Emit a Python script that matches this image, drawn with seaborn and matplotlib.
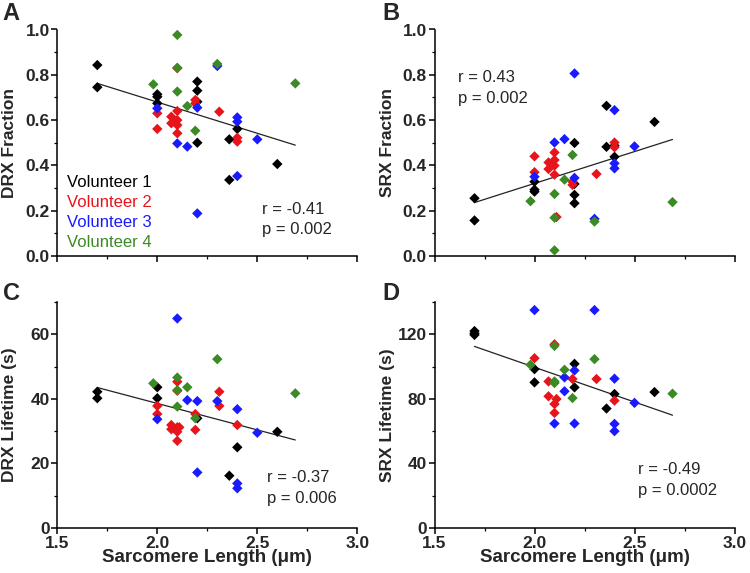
import numpy as np
import pandas as pd
import matplotlib
matplotlib.use("Agg")
import matplotlib.pyplot as plt
from matplotlib.ticker import MultipleLocator
import seaborn as sns

sns.set_style("ticks")
plt.rcParams['font.family'] = ['Liberation Sans', 'DejaVu Sans']

volunteers = ["Volunteer 1", "Volunteer 2", "Volunteer 3", "Volunteer 4"]
colors = ["#000000", "#e8141b", "#1a1aff", "#3b8a25"]

# Panel A: DRX Fraction
a_v1_x = [1.70, 1.70, 2.00, 2.00, 2.00, 2.20, 2.20, 2.20, 2.20, 2.36, 2.40, 2.36, 2.60]
a_v1_y = [0.843, 0.745, 0.714, 0.703, 0.674, 0.770, 0.730, 0.681, 0.500, 0.515, 0.561, 0.336, 0.406]
a_v2_x = [2.00, 2.00, 2.10, 2.10, 2.07, 2.07, 2.10, 2.10, 2.10, 2.19, 2.19, 2.31, 2.40, 2.40]
a_v2_y = [0.630, 0.561, 0.829, 0.640, 0.615, 0.586, 0.600, 0.578, 0.542, 0.689, 0.674, 0.637, 0.522, 0.505]
a_v3_x = [2.00, 2.10, 2.15, 2.20, 2.20, 2.30, 2.40, 2.40, 2.40, 2.50]
a_v3_y = [0.652, 0.497, 0.483, 0.655, 0.188, 0.839, 0.612, 0.593, 0.353, 0.515]
a_v4_x = [2.10, 2.10, 1.98, 2.10, 2.15, 2.19, 2.30, 2.69]
a_v4_y = [0.976, 0.831, 0.758, 0.726, 0.662, 0.553, 0.848, 0.762]

# Panel B: SRX Fraction
b_v1_x = [1.70, 1.70, 2.00, 2.00, 2.00, 2.20, 2.20, 2.20, 2.20, 2.36, 2.36, 2.40, 2.40, 2.60]
b_v1_y = [0.255, 0.157, 0.328, 0.293, 0.284, 0.499, 0.318, 0.270, 0.233, 0.663, 0.482, 0.487, 0.438, 0.592]
b_v2_x = [2.00, 2.00, 2.07, 2.07, 2.10, 2.10, 2.10, 2.10, 2.11, 2.19, 2.19, 2.31, 2.40, 2.40]
b_v2_y = [0.440, 0.370, 0.413, 0.384, 0.457, 0.424, 0.399, 0.359, 0.172, 0.328, 0.314, 0.362, 0.501, 0.480]
b_v3_x = [2.00, 2.10, 2.15, 2.20, 2.20, 2.30, 2.40, 2.40, 2.40, 2.50]
b_v3_y = [0.350, 0.501, 0.516, 0.806, 0.345, 0.164, 0.644, 0.409, 0.387, 0.484]
b_v4_x = [1.98, 2.10, 2.10, 2.10, 2.15, 2.19, 2.30, 2.69]
b_v4_y = [0.242, 0.274, 0.169, 0.025, 0.337, 0.446, 0.152, 0.238]

# Panel C: DRX Lifetime (s)
c_v1_x = [1.70, 1.70, 2.00, 2.00, 2.20, 2.40, 2.36, 2.60]
c_v1_y = [42.2, 40.2, 43.6, 40.2, 34.0, 25.0, 16.2, 29.8]
c_v2_x = [2.00, 2.00, 2.10, 2.10, 2.07, 2.07, 2.10, 2.11, 2.10, 2.10, 2.19, 2.19, 2.31, 2.31, 2.40]
c_v2_y = [37.8, 35.3, 45.3, 42.5, 31.9, 30.6, 31.2, 31.2, 29.8, 27.0, 35.3, 30.4, 42.2, 37.8, 31.9]
c_v3_x = [2.00, 2.10, 2.15, 2.20, 2.20, 2.30, 2.40, 2.40, 2.40, 2.50]
c_v3_y = [33.7, 64.9, 39.6, 39.3, 17.2, 39.3, 36.8, 13.8, 12.3, 29.5]
c_v4_x = [1.98, 2.10, 2.10, 2.10, 2.15, 2.19, 2.30, 2.69]
c_v4_y = [44.8, 46.6, 42.7, 37.6, 43.6, 34.0, 52.3, 41.7]

# Panel D: SRX Lifetime (s)
d_v1_x = [1.70, 1.70, 1.70, 2.00, 2.00, 2.20, 2.20, 2.40, 2.36, 2.60]
d_v1_y = [122.0, 120.6, 119.6, 98.4, 90.2, 101.7, 87.1, 83.0, 74.0, 84.2]
d_v2_x = [2.00, 2.07, 2.07, 2.10, 2.10, 2.11, 2.10, 2.19, 2.31, 2.40]
d_v2_y = [105.2, 90.8, 81.6, 113.8, 76.8, 79.9, 71.3, 92.3, 92.3, 78.9]
d_v3_x = [2.00, 2.30, 2.15, 2.15, 2.20, 2.10, 2.20, 2.40, 2.40, 2.40, 2.50]
d_v3_y = [135.0, 135.0, 93.3, 84.7, 97.6, 64.7, 64.7, 92.5, 64.5, 60.0, 77.5]
d_v4_x = [1.98, 2.10, 2.10, 2.10, 2.15, 2.19, 2.30, 2.69]
d_v4_y = [101.1, 112.8, 90.8, 89.8, 98.0, 80.5, 104.6, 83.2]

panels = {
    "A": dict(xs=[a_v1_x, a_v2_x, a_v3_x, a_v4_x], ys=[a_v1_y, a_v2_y, a_v3_y, a_v4_y],
              ylabel="DRX Fraction", r="r = -0.41", p="p = 0.002"),
    "B": dict(xs=[b_v1_x, b_v2_x, b_v3_x, b_v4_x], ys=[b_v1_y, b_v2_y, b_v3_y, b_v4_y],
              ylabel="SRX Fraction", r="r = 0.43", p="p = 0.002"),
    "C": dict(xs=[c_v1_x, c_v2_x, c_v3_x, c_v4_x], ys=[c_v1_y, c_v2_y, c_v3_y, c_v4_y],
              ylabel="DRX Lifetime (s)", r="r = -0.37", p="p = 0.006"),
    "D": dict(xs=[d_v1_x, d_v2_x, d_v3_x, d_v4_x], ys=[d_v1_y, d_v2_y, d_v3_y, d_v4_y],
              ylabel="SRX Lifetime (s)", r="r = -0.49", p="p = 0.0002"),
}

W, H = 750, 573
fig = plt.figure(figsize=(7.5, 5.73), dpi=100)

def fr(left, top, right, bottom):
    return [left / W, 1 - bottom / H, (right - left) / W, (bottom - top) / H]

rects = {
    "A": fr(57.3, 29.5, 357.3, 256),
    "B": fr(434.5, 29.5, 734.5, 256),
    "C": fr(57.3, 302, 357.3, 528),
    "D": fr(434.5, 302, 734.5, 528),
}
ylims = {"A": (0, 1.0), "B": (0, 1.0), "C": (0, 70), "D": (0, 140)}
ymaj = {"A": 0.2, "B": 0.2, "C": 20, "D": 40}
# text positions in pixels (left x, center y)
rpos = {"A": (262, 209), "B": (458, 78), "C": (267, 478), "D": (638, 469)}
letter_pos = {"A": (11, 14), "B": (391, 13), "C": (11, 294), "D": (391, 293)}

for key, info in panels.items():
    ax = fig.add_axes(rects[key])
    frames = []
    for vol, xv, yv in zip(volunteers, info["xs"], info["ys"]):
        frames.append(pd.DataFrame({"x": xv, "y": yv, "vol": vol}))
    df = pd.concat(frames, ignore_index=True)
    sns.regplot(data=df, x="x", y="y", scatter=False, ci=None, ax=ax,
                line_kws=dict(color="#222222", lw=0.9))
    sns.scatterplot(data=df, x="x", y="y", hue="vol", hue_order=volunteers,
                    palette=colors, marker="D", s=28, linewidth=0, ax=ax,
                    legend=False, zorder=3)
    ax.set_xlim(1.5, 3.0)
    ax.set_ylim(*ylims[key])
    ax.xaxis.set_major_locator(MultipleLocator(0.5))
    ax.xaxis.set_minor_locator(MultipleLocator(0.25))
    ax.yaxis.set_major_locator(MultipleLocator(ymaj[key]))
    ax.yaxis.set_minor_locator(MultipleLocator(ymaj[key] / 2))
    for s in ["top", "right"]:
        ax.spines[s].set_visible(False)
    for s in ["left", "bottom"]:
        ax.spines[s].set_linewidth(1.1)
        ax.spines[s].set_color("black")
    ax.tick_params(which="major", direction="out", length=4, width=1.1, color="black",
                   labelsize=12.5, pad=1.5)
    ax.tick_params(which="minor", direction="out", length=2.5, width=0.9, color="black")
    if key in ("A", "B"):
        ax.yaxis.set_major_formatter(matplotlib.ticker.FormatStrFormatter("%.1f"))
        ax.tick_params(axis="x", labelbottom=False)
        ax.set_xlabel("")
    else:
        ax.set_xlabel("Sarcomere Length (\u03bcm)", fontsize=13.5, fontweight="bold", labelpad=-1)
    for lab in ax.get_yticklabels() + ax.get_xticklabels():
        lab.set_fontweight("bold")
    ax.set_ylabel(info["ylabel"], fontsize=12.5, fontweight="bold")
    ax.yaxis.set_label_coords(-0.133, 0.5)
    # r and p
    rx, ry = rpos[key]
    fig.text(rx / W, 1 - ry / H, info["r"], fontsize=12, va="center", ha="left")
    fig.text(rx / W, 1 - (ry + 21) / H, info["p"], fontsize=12, va="center", ha="left")
    lx, ly = letter_pos[key]
    fig.text(lx / W, 1 - ly / H, key, fontsize=17, fontweight="bold", va="center", ha="center")

# Legend in panel A as colored text
for i, (vol, c) in enumerate(zip(volunteers, colors)):
    fig.text(67 / W, 1 - (182 + 20.3 * i) / H, vol, color=c, fontsize=12,
             va="center", ha="left")

fig.savefig("out.png", dpi=100)
